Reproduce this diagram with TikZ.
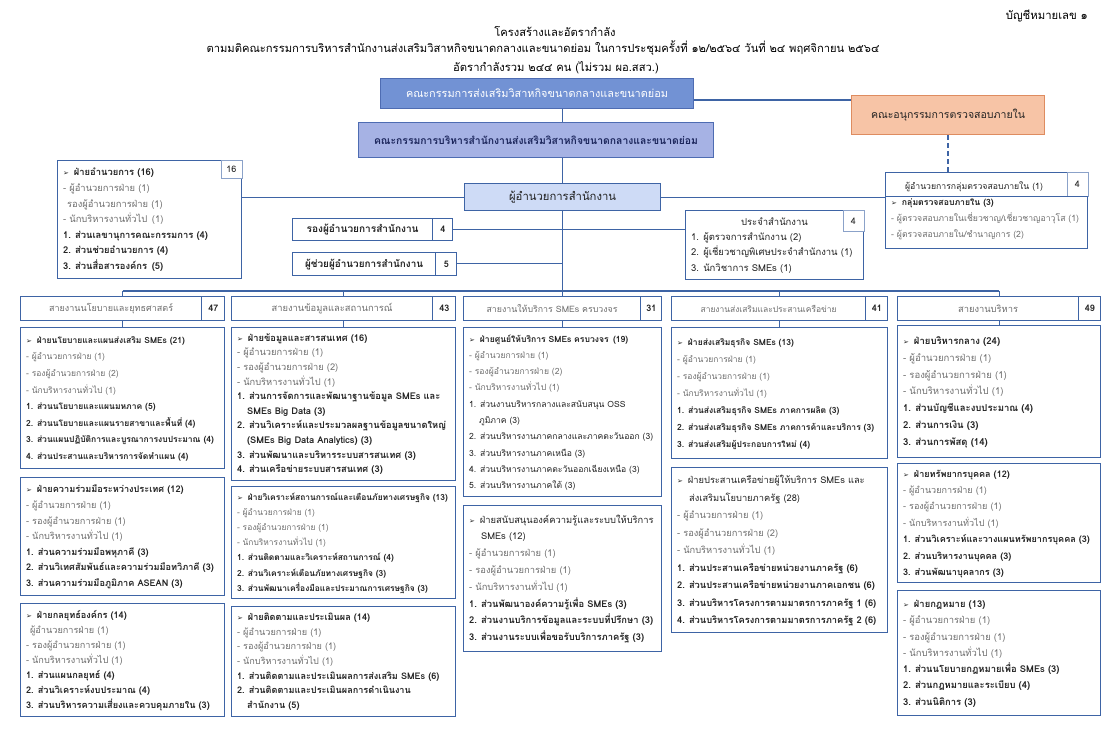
\documentclass[tikz,border=0pt]{standalone}
\usepackage{fontspec}
\setmainfont[Script=Thai]{Loma}
\newfontfamily\dejavu{DejaVu Sans}
\usetikzlibrary{calc}
\definecolor{lineblue}{RGB}{62,100,165}
\definecolor{topfill}{RGB}{114,146,212}
\definecolor{topdraw}{RGB}{78,108,178}
\definecolor{midfill}{RGB}{166,178,228}
\definecolor{midtext}{RGB}{28,38,92}
\definecolor{dirfill}{RGB}{206,219,246}
\definecolor{orfill}{RGB}{247,196,166}
\definecolor{ordraw}{RGB}{222,140,96}
\definecolor{subtext}{RGB}{110,110,110}
\definecolor{maintext}{RGB}{35,35,35}
\newlength\lw
\newcommand\ar{{\dejavu\fontsize{7}{8}\selectfont ➢}\hspace{5pt}}
\newcommand\sbt[1]{{\color{subtext}#1}}
\newcommand\measure[1]{%
  \pgfinterruptpicture\settowidth\lw{\fontsize{10}{12}\selectfont #1}\global\lw=\lw\endpgfinterruptpicture}
% fit a one-line text to a target width: sets \fs
\newcommand\fitto[2]{%
  \measure{#1}%
  \pgfmathsetmacro\fs{10*#2/\lw}}
% unit box: name x1 y1 x2 y2 baselineskip content fill-fraction
\newcommand\orgbox[8]{%
  \pgfmathsetmacro\bw{#4-#2}%
  \pgfmathsetmacro\bh{#5-#3}%
  \pgfmathsetmacro\btw{#4-#2-11}%
  \measure{\begin{tabular}{@{}l@{}}#7\end{tabular}}%
  \pgfmathsetmacro\fs{10*(#8*\bw-6)/\lw}%
  \node[unitbox, minimum width=\bw pt, minimum height=\bh pt, font=\fontsize{\fs}{#6}\selectfont] (#1) at (#2,#3) {\makebox[\btw pt][l]{\begin{tabular}{@{}l@{}}#7\end{tabular}}};}
% header box: name x y width numwidth text targetwidth number height
\newcommand\hdr[9]{%
  \measure{#6}%
  \pgfmathsetmacro\fs{10*#7/\lw}%
  \pgfmathsetmacro\lwid{#4-#5}%
  \node[hdrbox, minimum width=#4pt, minimum height=#9pt, font=\fontsize{\fs}{12}\selectfont] (#1) at (#2,#3) {\makebox[\lwid pt]{#6}\makebox[#5pt]{}};
  \node[hdrnum, minimum width=#5pt, minimum height=#9pt] (#1n) at (#1.north east) {#8};}
\tikzset{
  conn/.style={draw=lineblue, line width=1.1pt},
  unitbox/.style={draw=lineblue, line width=1.2pt, fill=white, anchor=north west, inner xsep=5pt, inner ysep=0pt, text=maintext},
  numbox/.style={draw=lineblue!60, line width=0.6pt, fill=white, anchor=north east, minimum width=21pt, minimum height=18pt, inner sep=0pt, font=\fontsize{9}{10}\selectfont, text=maintext},
  hdrbox/.style={draw=lineblue, line width=1.2pt, fill=white, anchor=north west, inner sep=0pt, text=subtext},
  hdrnum/.style={draw=lineblue, line width=0.8pt, fill=white, anchor=north east, inner sep=0pt, text=maintext, font=\bfseries\fontsize{9}{10}\selectfont},
  titlef/.style={text=black, inner sep=0pt}
}
\begin{document}
\begin{tikzpicture}[x=1pt,y=-1pt]
\useasboundingbox (0,0) rectangle (1110,729);
\fill[white] (0,0) rectangle (1110,729);
% titles
\fitto{บัญชีหมายเลข ๑}{82}
\node[titlef, anchor=east, font=\fontsize{\fs}{12}\selectfont] (listno) at (1088,16) {บัญชีหมายเลข ๑};
\fitto{ตามมติคณะกรรมการบริหารสำนักงานส่งเสริมวิสาหกิจขนาดกลางและขนาดย่อม ในการประชุมครั้งที่ ๑๒/๒๕๖๔ วันที่ ๒๔ พฤศจิกายน ๒๕๖๔}{673}
\let\titlefs\fs
\node[titlef, font=\fontsize{\titlefs}{12}\selectfont] (t1) at (555,31) {โครงสร้างและอัตรากำลัง};
\node[titlef, font=\fontsize{\titlefs}{12}\selectfont] (t2) at (543,48) {ตามมติคณะกรรมการบริหารสำนักงานส่งเสริมวิสาหกิจขนาดกลางและขนาดย่อม ในการประชุมครั้งที่ ๑๒/๒๕๖๔ วันที่ ๒๔ พฤศจิกายน ๒๕๖๔};
\node[titlef, font=\fontsize{\titlefs}{12}\selectfont] (t3) at (556,68) {อัตรากำลังรวม ๒๔๔ คน (ไม่รวม ผอ.สสว.)};
% top boxes
\fitto{คณะกรรมการส่งเสริมวิสาหกิจขนาดกลางและขนาดย่อม}{262}
\node[draw=topdraw, fill=topfill, line width=1pt, minimum width=313pt, minimum height=30pt, anchor=north west, text=white, font=\fontsize{\fs}{12}\selectfont] (board) at (380,78) {คณะกรรมการส่งเสริมวิสาหกิจขนาดกลางและขนาดย่อม};
\fitto{\bfseries คณะกรรมการบริหารสำนักงานส่งเสริมวิสาหกิจขนาดกลางและขนาดย่อม}{324}
\node[draw=topdraw, fill=midfill, line width=1pt, minimum width=355pt, minimum height=35pt, anchor=north west, text=midtext, font=\bfseries\fontsize{\fs}{12}\selectfont] (exec) at (358,122) {คณะกรรมการบริหารสำนักงานส่งเสริมวิสาหกิจขนาดกลางและขนาดย่อม};
\fitto{คณะอนุกรรมการตรวจสอบภายใน}{154}
\node[draw=ordraw, fill=orfill, line width=1pt, minimum width=193pt, minimum height=39pt, anchor=north west, text=maintext, font=\fontsize{\fs}{12}\selectfont] (audc) at (851,95) {คณะอนุกรรมการตรวจสอบภายใน};
\fitto{ผู้อำนวยการสำนักงาน}{107}
\node[draw=lineblue, fill=dirfill, line width=1.2pt, minimum width=196pt, minimum height=27pt, anchor=north west, text=maintext, font=\fontsize{\fs}{12}\selectfont] (dir) at (464,183) {ผู้อำนวยการสำนักงาน};
% upper units
\orgbox{adm}{57}{160}{241}{278}{15.6}{\textbf{\ar ฝ่ายอำนวยการ (16)}\\
\sbt{- ผู้อำนวยการฝ่าย (1)}\\
\sbt{\hspace*{4pt}รองผู้อำนวยการฝ่าย (1)}\\
\sbt{- นักบริหารงานทั่วไป\, (1)}\\
\textbf{1. ส่วนเลขานุการคณะกรรมการ (4)}\\
\textbf{2. ส่วนช่วยอำนวยการ (4)}\\
\textbf{3. ส่วนสื่อสารองค์กร\, (5)}}{0.82}
\node[numbox] (admn) at (adm.north east) {16};
\orgbox{aud}{885}{172}{1087}{248}{16}{\hspace*{14pt}ผู้อำนวยการกลุ่มตรวจสอบภายใน (1)\\
\textbf{\ar กลุ่มตรวจสอบภายใน (3)}\\
\sbt{- ผู้ตรวจสอบภายในเชี่ยวชาญ/เชี่ยวชาญอาวุโส (1)}\\
\sbt{- ผู้ตรวจสอบภายใน/ชำนาญการ (2)}}{0.96}
\node[numbox, minimum height=24pt] (audn) at (aud.north east) {4};
\draw[conn, line width=0.8pt] (aud.west |- audn.south) -- (audn.south east);
\orgbox{off}{685}{210}{863}{279}{15.3}{\hspace*{50pt}ประจำสำนักงาน\\
1. ผู้ตรวจการสำนักงาน (2)\\
2. ผู้เชี่ยวชาญพิเศษประจำสำนักงาน (1)\\
3. นักวิชาการ SMEs (1)}{0.94}
\node[numbox, minimum height=21pt] (offn) at (off.north east) {4};
\hdr{dep}{292}{218}{160}{20}{\color{maintext}\bfseries รองผู้อำนวยการสำนักงาน}{112}{4}{22}
\hdr{ast}{292}{252}{164}{21}{\color{maintext}\bfseries ผู้ช่วยผู้อำนวยการสำนักงาน}{118}{5}{23}
% column headers
\hdr{h1}{20}{296}{204}{23}{สายงานนโยบายและยุทธศาสตร์}{124}{47}{24}
\hdr{h2}{231}{296}{224}{23}{สายงานข้อมูลและสถานการณ์}{121}{43}{24}
\hdr{h3}{463}{296}{198}{21}{สายงานให้บริการ SMEs ครบวงจร}{131}{31}{24}
\hdr{h4}{671}{296}{216}{22}{สายงานส่งเสริมและประสานเครือข่าย}{136}{41}{24}
\hdr{h5}{897}{296}{203}{22}{สายงานบริหาร}{60}{49}{24}
% column 1
\orgbox{c1a}{20}{327}{224}{468}{16.6}{\textbf{\ar ฝ่ายนโยบายและแผนส่งเสริม SMEs (21)}\\
\sbt{- ผู้อำนวยการฝ่าย (1)}\\
\sbt{- รองผู้อำนวยการฝ่าย (2)}\\
\sbt{- นักบริหารงานทั่วไป (1)}\\
\textbf{1. ส่วนนโยบายและแผนมหภาค (5)}\\
\textbf{2. ส่วนนโยบายและแผนรายสาขาและพื้นที่ (4)}\\
\textbf{3. ส่วนแผนปฏิบัติการและบูรณาการงบประมาณ (4)}\\
\textbf{4. ส่วนประสานและบริหารการจัดทำแผน (4)}}{0.95}
\orgbox{c1b}{20}{477}{224}{595}{15.6}{\textbf{\ar ฝ่ายความร่วมมือระหว่างประเทศ (12)}\\
\sbt{- ผู้อำนวยการฝ่าย (1)}\\
\sbt{- รองผู้อำนวยการฝ่าย (1)}\\
\sbt{- นักบริหารงานทั่วไป (1)}\\
\textbf{1. ส่วนความร่วมมือพหุภาคี (3)}\\
\textbf{2. ส่วนวิเทศสัมพันธ์และความร่วมมือทวิภาคี (3)}\\
\textbf{3. ส่วนความร่วมมือภูมิภาค ASEAN (3)}}{0.95}
\orgbox{c1c}{20}{603}{224}{716}{15}{\textbf{\ar ฝ่ายกลยุทธ์องค์กร (14)}\\
\sbt{\hspace*{4pt}ผู้อำนวยการฝ่าย (1)}\\
\sbt{- รองผู้อำนวยการฝ่าย (1)}\\
\sbt{- นักบริหารงานทั่วไป (1)}\\
\textbf{1. ส่วนแผนกลยุทธ์ (4)}\\
\textbf{2. ส่วนวิเคราะห์งบประมาณ (4)}\\
\textbf{3. ส่วนบริหารความเสี่ยงและควบคุมภายใน (3)}}{0.93}
% column 2
\orgbox{c2a}{231}{327}{455}{480}{14.6}{\textbf{\ar ฝ่ายข้อมูลและสารสนเทศ (16)}\\
\sbt{- ผู้อำนวยการฝ่าย (1)}\\
\sbt{- รองผู้อำนวยการฝ่าย (2)}\\
\sbt{- นักบริหารงานทั่วไป (1)}\\
\textbf{1. ส่วนการจัดการและพัฒนาฐานข้อมูล SMEs และ}\\
\textbf{\hspace*{10pt}SMEs Big Data (3)}\\
\textbf{2. ส่วนวิเคราะห์และประมวลผลฐานข้อมูลขนาดใหญ่}\\
\textbf{\hspace*{10pt}(SMEs Big Data Analytics) (3)}\\
\textbf{3. ส่วนพัฒนาและบริหารระบบสารสนเทศ (3)}\\
\textbf{4. ส่วนเครือข่ายระบบสารสนเทศ (3)}}{0.96}
\orgbox{c2b}{231}{486}{455}{598}{15.2}{\textbf{\ar ฝ่ายวิเคราะห์สถานการณ์และเตือนภัยทางเศรษฐกิจ (13)}\\
\sbt{- ผู้อำนวยการฝ่าย (1)}\\
\sbt{- รองผู้อำนวยการฝ่าย (1)}\\
\sbt{- นักบริหารงานทั่วไป (1)}\\
\textbf{1. ส่วนติดตามและวิเคราะห์สถานการณ์ (4)}\\
\textbf{2. ส่วนวิเคราะห์เตือนภัยทางเศรษฐกิจ (3)}\\
\textbf{3. ส่วนพัฒนาเครื่องมือและประมาณการเศรษฐกิจ (3)}}{0.96}
\orgbox{c2c}{231}{606}{455}{716}{14.6}{\textbf{\ar ฝ่ายติดตามและประเมินผล (14)}\\
\sbt{- ผู้อำนวยการฝ่าย (1)}\\
\sbt{- รองผู้อำนวยการฝ่าย (1)}\\
\sbt{- นักบริหารงานทั่วไป (1)}\\
\textbf{1. ส่วนติดตามและประเมินผลการส่งเสริม SMEs (6)}\\
\textbf{2. ส่วนติดตามและประเมินผลการดำเนินงาน}\\
\textbf{\hspace*{10pt}สำนักงาน (5)}}{0.93}
% column 3
\orgbox{c3a}{463}{327}{661}{496}{16.3}{\textbf{\ar ฝ่ายศูนย์ให้บริการ SMEs ครบวงจร\, (19)}\\
\sbt{- ผู้อำนวยการฝ่าย (1)}\\
\sbt{- รองผู้อำนวยการฝ่าย (2)}\\
\sbt{- นักบริหารงานทั่วไป (1)}\\
1. ส่วนงานบริหารกลางและสนับสนุน OSS\\
\hspace*{10pt}ภูมิภาค (3)\\
2. ส่วนบริหารงานภาคกลางและภาคตะวันออก (3)\\
3. ส่วนบริหารงานภาคเหนือ (3)\\
4. ส่วนบริหารงานภาคตะวันออกเฉียงเหนือ (3)\\
5. ส่วนบริหารงานภาคใต้ (3)}{0.96}
\orgbox{c3b}{463}{505}{661}{651}{16.8}{\ar ฝ่ายสนับสนุนองค์ความรู้และระบบให้บริการ\\
\hspace*{12pt}SMEs (12)\\
\sbt{- ผู้อำนวยการฝ่าย (1)}\\
\sbt{- รองผู้อำนวยการฝ่าย (1)}\\
\sbt{- นักบริหารงานทั่วไป (1)}\\
\textbf{1. ส่วนพัฒนาองค์ความรู้เพื่อ SMEs (3)}\\
\textbf{2. ส่วนงานบริการข้อมูลและระบบที่ปรึกษา (3)}\\
\textbf{3. ส่วนงานระบบเพื่อขอรับบริการภาครัฐ (3)}}{0.96}
% column 4
\orgbox{c4a}{671}{327}{887}{458}{17}{\textbf{\ar ฝ่ายส่งเสริมธุรกิจ SMEs (13)}\\
\sbt{- ผู้อำนวยการฝ่าย (1)}\\
\sbt{- รองผู้อำนวยการฝ่าย (1)}\\
\sbt{- นักบริหารงานทั่วไป (1)}\\
\textbf{1. ส่วนส่งเสริมธุรกิจ SMEs ภาคการผลิต (3)}\\
\textbf{2. ส่วนส่งเสริมธุรกิจ SMEs ภาคการค้าและบริการ (3)}\\
\textbf{3. ส่วนส่งเสริมผู้ประกอบการใหม่ (4)}}{0.94}
\orgbox{c4b}{671}{467}{887}{632}{17.5}{\ar ฝ่ายประสานเครือข่ายผู้ให้บริการ SMEs และ\\
\hspace*{12pt}ส่งเสริมนโยบายภาครัฐ (28)\\
\sbt{- ผู้อำนวยการฝ่าย (1)}\\
\sbt{- รองผู้อำนวยการฝ่าย (2)}\\
\sbt{- นักบริหารงานทั่วไป (1)}\\
\textbf{1. ส่วนประสานเครือข่ายหน่วยงานภาครัฐ (6)}\\
\textbf{2. ส่วนประสานเครือข่ายหน่วยงานภาคเอกชน (6)}\\
\textbf{3. ส่วนบริหารโครงการตามมาตรการภาครัฐ 1 (6)}\\
\textbf{4. ส่วนบริหารโครงการตามมาตรการภาครัฐ 2 (6)}}{0.95}
% column 5
\orgbox{c5a}{897}{325}{1100}{457}{16.8}{\textbf{\ar ฝ่ายบริหารกลาง (24)}\\
\sbt{- ผู้อำนวยการฝ่าย (1)}\\
\sbt{- รองผู้อำนวยการฝ่าย (1)}\\
\sbt{- นักบริหารงานทั่วไป (1)}\\
\textbf{1. ส่วนบัญชีและงบประมาณ (4)}\\
\textbf{2. ส่วนการเงิน (3)}\\
\textbf{3. ส่วนการพัสดุ (14)}}{0.67}
\orgbox{c5b}{897}{463}{1100}{582}{16.4}{\textbf{\ar ฝ่ายทรัพยากรบุคคล (12)}\\
\sbt{- ผู้อำนวยการฝ่าย (1)}\\
\sbt{- รองผู้อำนวยการฝ่าย (1)}\\
\sbt{- นักบริหารงานทั่วไป (1)}\\
\textbf{1. ส่วนวิเคราะห์และวางแผนทรัพยากรบุคคล (3)}\\
\textbf{2. ส่วนบริหารงานบุคคล (3)}\\
\textbf{3. ส่วนพัฒนาบุคลากร (3)}}{0.95}
\orgbox{c5c}{897}{590}{1100}{715}{16.3}{\textbf{\ar ฝ่ายกฎหมาย (13)}\\
\sbt{- ผู้อำนวยการฝ่าย (1)}\\
\sbt{- รองผู้อำนวยการฝ่าย (1)}\\
\sbt{- นักบริหารงานทั่วไป (1)}\\
\textbf{1. ส่วนนโยบายกฎหมายเพื่อ SMEs (3)}\\
\textbf{2. ส่วนกฎหมายและระเบียบ (4)}\\
\textbf{3. ส่วนนิติการ (3)}}{0.80}
% connectors
\draw[conn] (board.south -| dir.north) -- (exec.north -| dir.north);
\draw[conn] (exec.south -| dir.north) -- (dir.north);
\draw[conn] (board.east |- 0,100) -- (audc.west |- 0,100);
\draw[conn, dash pattern=on 5pt off 3pt] (audc.south) -- (audc.south |- aud.north);
\draw[conn] (dir.west) -- (dir.west -| adm.east);
\draw[conn] (dir.east) -- (dir.east -| aud.west);
\draw[conn] (depn.east) -- (depn.east -| off.west);
\draw[conn] (astn.east) -- (astn.east -| dir.south);
\draw[conn] (dir.south) -- (h3.north);
\draw[conn] (h1.north |- 0,291) -- (h5.north |- 0,291);
\draw[conn] (h1.north |- 0,291) -- (h1.north);
\draw[conn] (h2.north |- 0,291) -- (h2.north);
\draw[conn] (h4.north |- 0,291) -- (h4.north);
\draw[conn] (h5.north |- 0,291) -- (h5.north);
\draw[conn] (h1.south) -- (c1a.north -| h1.south);
\draw[conn] (h2.south) -- (c2a.north -| h2.south);
\draw[conn] (h3.south) -- (c3a.north -| h3.south);
\draw[conn] (h4.south) -- (c4a.north -| h4.south);
\draw[conn] (h5.south) -- (c5a.north -| h5.south);
\end{tikzpicture}
\end{document}
